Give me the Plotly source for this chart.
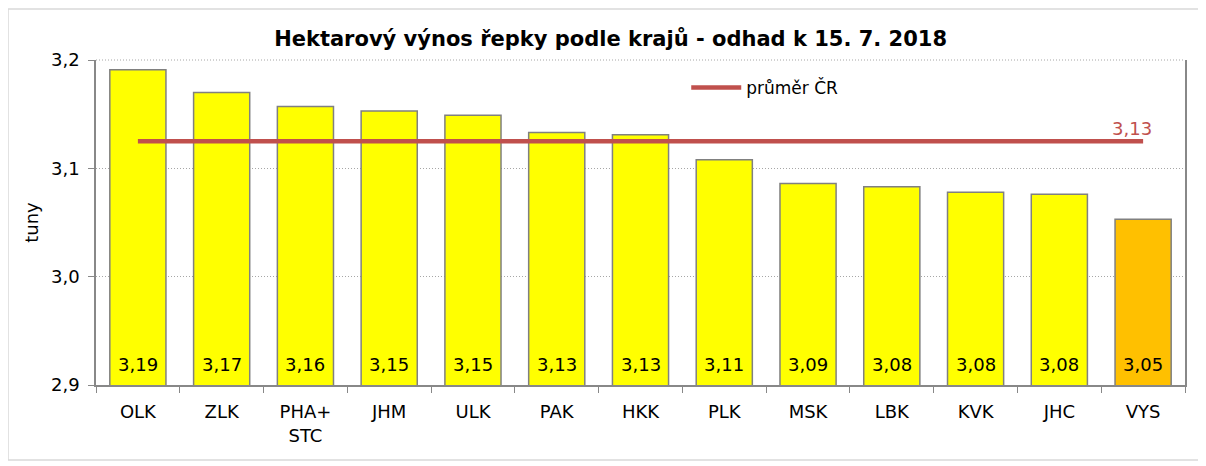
import plotly.graph_objects as go

categories = ["OLK", "ZLK", "PHA+<br>STC", "JHM", "ULK", "PAK", "HKK", "PLK", "MSK", "LBK", "KVK", "JHC", "VYS"]
values = [3.191, 3.170, 3.157, 3.153, 3.149, 3.133, 3.131, 3.108, 3.086, 3.083, 3.078, 3.076, 3.053]
labels = ["3,19", "3,17", "3,16", "3,15", "3,15", "3,13", "3,13", "3,11", "3,09", "3,08", "3,08", "3,08", "3,05"]
average = 3.125
average_label = "3,13"
bar_colors = ["#FFFF00"] * 12 + ["#FFC000"]
y_min, y_max = 2.9, 3.2

FONT = "DejaVu Sans"

fig = go.Figure()
fig.add_trace(go.Bar(
    x=categories, y=values,
    marker=dict(color=bar_colors, line=dict(color="#808080", width=1.5)),
    showlegend=False,
))
fig.add_trace(go.Scatter(
    x=categories, y=[average] * len(categories),
    mode="lines",
    line=dict(color="#C0504D", width=4.5),
    name="průměr ČR", showlegend=True,
))
fig.add_annotation(x=categories[-1], y=average, text=average_label, showarrow=False,
                   xanchor="center", yanchor="middle", xshift=-11, yshift=13,
                   font=dict(family=FONT, size=18, color="#C0504D"))
for cat, lab in zip(categories, labels):
    fig.add_annotation(x=cat, y=y_min, text=lab, showarrow=False,
                       yanchor="middle", yshift=21,
                       font=dict(family=FONT, size=18, color="black"))

fig.update_layout(
    width=1198, height=458,
    margin=dict(l=88, r=21, t=52, b=81),
    paper_bgcolor="white", plot_bgcolor="white",
    separators=", ",
    bargap=0.33,
    title=dict(text="<b>Hektarový výnos řepky podle krajů - odhad k 15. 7. 2018</b>",
               x=0.503, xanchor="center", y=0.934, yanchor="middle",
               font=dict(family=FONT, size=21, color="black")),
    legend=dict(x=0.542, y=0.914, xanchor="left", yanchor="middle",
                bgcolor="rgba(0,0,0,0)", font=dict(family=FONT, size=17, color="black"),
                itemwidth=50, tracegroupgap=0),
    font=dict(family=FONT, color="black"),
)
fig.update_yaxes(
    range=[y_min, y_max], dtick=0.1, tickformat=".1f", automargin=False,
    showgrid=True, gridcolor="#A6A6A6", griddash="1px,2px", gridwidth=1,
    showline=True, linecolor="#888888", linewidth=1.5, mirror=True,
    ticks="outside", ticklen=6, tickcolor="#888888", ticklabelstandoff=5,
    tickfont=dict(family=FONT, size=18, color="black"),
    title=dict(text="tuny", font=dict(family=FONT, size=18, color="black"), standoff=8),
    zeroline=False,
)
fig.update_xaxes(
    showline=True, linecolor="#888888", linewidth=1.5, automargin=False,
    ticks="outside", ticklen=6, tickcolor="#888888", tickson="boundaries",
    ticklabelstandoff=10,
    tickfont=dict(family=FONT, size=18, color="black"),
)
fig.add_shape(type="line", xref="paper", yref="paper", x0=0, x1=1, y0=1, y1=1,
              line=dict(color="#A6A6A6", width=1, dash="1px,2px"))
fig.add_shape(type="rect", xref="paper", yref="paper",
              x0=-0.0808, x1=1.0138, y0=-0.2308, y1=1.157,
              line=dict(color="#D9D9D9", width=1.5), fillcolor="rgba(0,0,0,0)", layer="below")

fig.write_html("out.html")
